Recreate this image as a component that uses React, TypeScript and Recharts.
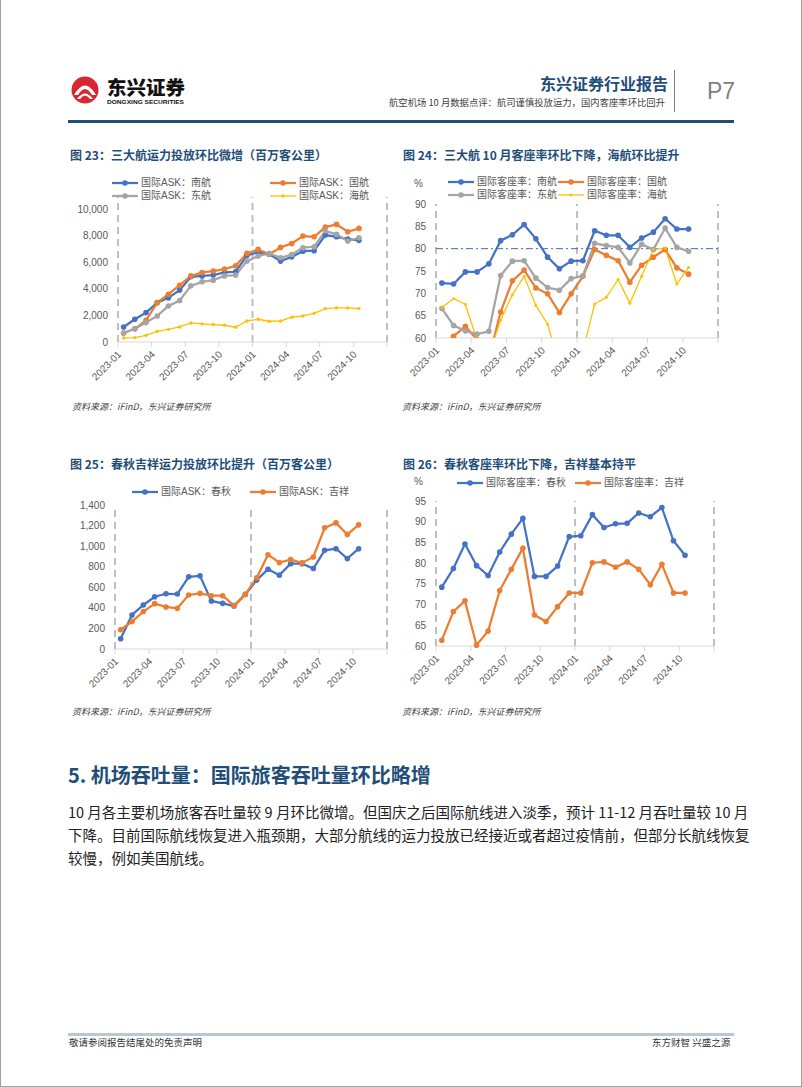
import React from "react";
import { LineChart, Line, XAxis, YAxis, ReferenceLine } from "recharts";

const months = [
  "2023-01", "2023-02", "2023-03", "2023-04", "2023-05", "2023-06",
  "2023-07", "2023-08", "2023-09", "2023-10", "2023-11", "2023-12",
  "2024-01", "2024-02", "2024-03", "2024-04", "2024-05", "2024-06",
  "2024-07", "2024-08", "2024-09", "2024-10",
];
// labels every 3 months on the axis boundaries, last tick (2025-01) unlabeled
const tickLabels = ["2023-01", "2023-04", "2023-07", "2023-10", "2024-01", "2024-04", "2024-07", "2024-10", ""];

// 图23 国际ASK（百万客公里）
const askNanhang = [1130, 1710, 2210, 2960, 3320, 3900, 4900, 4970, 5030, 5230, 5280, 6500, 6750, 6600, 6080, 6400, 6830, 6860, 8040, 7910, 7740, 7640];
const askGuohang = [680, 990, 1630, 2950, 3590, 4270, 4970, 5230, 5330, 5480, 5730, 6660, 6960, 6600, 7110, 7410, 7960, 7910, 8640, 8840, 8290, 8540];
const askDonghang = [680, 990, 1460, 1960, 2710, 3120, 4220, 4520, 4650, 4970, 5030, 6080, 6460, 6660, 6330, 6580, 7090, 7160, 8340, 8090, 7590, 7840];
const askHaihang = [300, 330, 500, 800, 950, 1130, 1430, 1360, 1310, 1260, 1110, 1580, 1710, 1560, 1580, 1860, 1960, 2160, 2510, 2560, 2560, 2510];

// 图24 国际客座率（%）
const lfNanhang = [72.3, 72.1, 74.8, 74.8, 76.6, 81.8, 83.1, 85.4, 82.2, 78.1, 75.5, 77.2, 77.3, 84.0, 83.0, 83.0, 80.3, 82.4, 83.7, 86.7, 84.4, 84.4];
const lfGuohang = [58.5, 60.4, 62.6, 59.6, 55.5, 65.8, 72.8, 75.2, 71.2, 69.9, 65.7, 69.9, 73.8, 79.8, 78.5, 77.3, 72.5, 76.3, 78.1, 79.8, 75.7, 74.3];
const lfDonghang = [66.6, 62.8, 61.6, 60.9, 61.5, 74.0, 77.2, 77.3, 73.4, 71.3, 70.7, 73.3, 73.9, 81.2, 80.7, 80.3, 76.8, 81.0, 79.8, 84.6, 80.3, 79.4];
const lfHaihang = [66.9, 68.8, 67.5, 59.5, 56.0, 64.0, 69.7, 73.8, 67.3, 63.1, 54.0, 53.0, 57.0, 67.6, 69.1, 73.1, 67.8, 73.8, 79.8, 80.1, 72.1, 75.8];

// 图25 国际ASK（百万客公里）
const askChunqiu = [100, 331, 428, 508, 537, 534, 702, 711, 467, 444, 418, 531, 670, 776, 718, 830, 830, 782, 959, 975, 879, 975];
const askJixiang = [187, 267, 364, 441, 409, 396, 525, 541, 518, 518, 422, 531, 692, 917, 840, 869, 837, 895, 1178, 1226, 1114, 1207];

// 图26 国际客座率（%）
const lfChunqiu = [74.2, 78.7, 84.6, 79.4, 77.0, 82.7, 87.0, 90.8, 76.8, 76.8, 79.3, 86.4, 86.6, 91.7, 88.6, 89.5, 89.6, 92.1, 91.2, 93.4, 85.4, 81.9];
const lfJixiang = [61.4, 68.3, 70.9, 60.2, 63.6, 73.4, 78.5, 83.6, 67.5, 65.9, 69.5, 72.8, 72.8, 80.1, 80.3, 79.0, 80.3, 78.5, 74.8, 79.7, 72.8, 72.8];

const bodyLines = [
  "10 月各主要机场旅客吞吐量较 9 月环比微增。但国庆之后国际航线进入淡季，预计 11-12 月吞吐量较 10 月",
  "下降。目前国际航线恢复进入瓶颈期，大部分航线的运力投放已经接近或者超过疫情前，但部分长航线恢复",
  "较慢，例如美国航线。",
];

const BLUE = "#4472C4";
const ORANGE = "#ED7D31";
const GRAY = "#A5A5A5";
const YELLOW = "#FFC000";
const TITLE = "#1F4E79";
const TXT = "#595959";
const FONT = '"Liberation Sans", Arial, "Noto Sans CJK SC", sans-serif';
const CJK = '"Noto Sans CJK SC", "Liberation Sans", sans-serif';

interface SeriesDef {
  name: string;
  color: string;
  values: number[];
  width: number;
  r: number;
}

interface LegendPos {
  s: number;
  x: number;
  y: number;
}

interface ChartDef {
  left: number;
  top: number;
  width: number;
  height: number;
  margin: { top: number; right: number; bottom: number; left: number };
  yWidth: number;
  xHeight: number;
  yDomain: [number, number];
  yTicks: number[];
  clip?: boolean;
  refY?: number;
  comma?: boolean;
  series: SeriesDef[];
  legend: LegendPos[];
}

const MonthTick = (props: any) => {
  const { x, y, payload } = props;
  const label = tickLabels[Math.round(payload.value / 3)];
  const tx = x + 4;
  const ty = y + 8;
  return (
    <text
      x={tx}
      y={ty}
      transform={`rotate(-45, ${tx}, ${ty})`}
      textAnchor="end"
      fontSize={10}
      fontFamily={FONT}
      fill={TXT}
    >
      {label}
    </text>
  );
};

const LegendItem: React.FC<{ s: SeriesDef; x: number; y: number }> = ({ s, x, y }) => (
  <div style={{ position: "absolute", left: x, top: y - 8, height: 16, display: "flex", alignItems: "center", whiteSpace: "nowrap" }}>
    <svg width={26} height={16} style={{ display: "block" }}>
      <line x1={0} y1={8} x2={26} y2={8} stroke={s.color} strokeWidth={s.width} />
      <circle cx={13} cy={8} r={s.r} fill={s.color} />
    </svg>
    <span style={{ marginLeft: 3, fontSize: 10, fontFamily: FONT, color: TXT, lineHeight: "16px" }}>{s.name}</span>
  </div>
);

const MonthlyChart: React.FC<{ def: ChartDef }> = ({ def }) => {
  const rows = months.map((m, i) => {
    const row: Record<string, number | string> = { x: i + 0.5, month: m };
    def.series.forEach((s, k) => {
      row["s" + k] = s.values[i];
    });
    return row;
  });
  return (
    <>
      <div style={{ position: "absolute", left: def.left, top: def.top }}>
        <LineChart width={def.width} height={def.height} data={rows} margin={def.margin}>
          <XAxis
            dataKey="x"
            type="number"
            domain={[0, 24]}
            ticks={[0, 3, 6, 9, 12, 15, 18, 21, 24]}
            interval={0}
            height={def.xHeight}
            tick={<MonthTick />}
            tickSize={5}
            tickMargin={0}
            axisLine={{ stroke: "#D9D9D9" }}
            tickLine={{ stroke: "#D9D9D9" }}
          />
          <YAxis
            type="number"
            domain={def.yDomain}
            ticks={def.yTicks}
            allowDataOverflow={!!def.clip}
            width={def.yWidth}
            axisLine={false}
            tickLine={false}
            tickSize={0}
            tickMargin={10}
            interval={0}
            tick={{ fontSize: 10, fill: TXT, fontFamily: FONT }}
            tickFormatter={(v: number) => (def.comma ? v.toLocaleString("en-US") : String(v))}
          />
          {[0, 12, 24].map((v) => (
            <ReferenceLine key={v} x={v} stroke="#BFBFBF" strokeWidth={2} strokeDasharray="7 5" />
          ))}
          {def.refY !== undefined && (
            <ReferenceLine y={def.refY} stroke="#3F6FB5" strokeWidth={1} strokeDasharray="7 3 2 3" />
          )}
          {def.series.map((s, k) => (
            <Line
              key={s.name}
              type="linear"
              dataKey={"s" + k}
              name={s.name}
              stroke={s.color}
              strokeWidth={s.width}
              dot={{ r: s.r, fill: s.color, stroke: s.color, strokeWidth: 0 }}
              isAnimationActive={false}
            />
          ))}
        </LineChart>
      </div>
      {def.legend.map((l) => (
        <LegendItem key={l.s} s={def.series[l.s]} x={l.x} y={l.y} />
      ))}
    </>
  );
};

const chart23: ChartDef = {
  left: 60, top: 190, width: 345, height: 230,
  margin: { top: 7, right: 18, bottom: 0, left: 0 },
  yWidth: 58, xHeight: 78,
  yDomain: [0, 10900], yTicks: [0, 2000, 4000, 6000, 8000, 10000], comma: true,
  series: [
    { name: "国际ASK：南航", color: BLUE, values: askNanhang, width: 2.25, r: 2.8 },
    { name: "国际ASK：国航", color: ORANGE, values: askGuohang, width: 2.25, r: 2.8 },
    { name: "国际ASK：东航", color: GRAY, values: askDonghang, width: 2.25, r: 2.8 },
    { name: "国际ASK：海航", color: YELLOW, values: askHaihang, width: 1.3, r: 1.7 },
  ],
  legend: [
    { s: 0, x: 112, y: 183 },
    { s: 1, x: 270, y: 183 },
    { s: 2, x: 112, y: 196 },
    { s: 3, x: 270, y: 196 },
  ],
};

const chart24: ChartDef = {
  left: 395, top: 190, width: 330, height: 230,
  margin: { top: 14, right: 7, bottom: 0, left: 0 },
  yWidth: 41, xHeight: 82,
  yDomain: [60, 90], yTicks: [60, 65, 70, 75, 80, 85, 90], clip: true, refY: 80,
  series: [
    { name: "国际客座率：南航", color: BLUE, values: lfNanhang, width: 2.25, r: 2.8 },
    { name: "国际客座率：国航", color: ORANGE, values: lfGuohang, width: 2.25, r: 2.8 },
    { name: "国际客座率：东航", color: GRAY, values: lfDonghang, width: 2.25, r: 2.8 },
    { name: "国际客座率：海航", color: YELLOW, values: lfHaihang, width: 1.3, r: 1.5 },
  ],
  legend: [
    { s: 0, x: 448, y: 182 },
    { s: 1, x: 558, y: 182 },
    { s: 2, x: 448, y: 195 },
    { s: 3, x: 558, y: 195 },
  ],
};

const chart25: ChartDef = {
  left: 60, top: 495, width: 340, height: 225,
  margin: { top: 10, right: 13, bottom: 0, left: 0 },
  yWidth: 55, xHeight: 71,
  yDomain: [0, 1400], yTicks: [0, 200, 400, 600, 800, 1000, 1200, 1400], comma: true,
  series: [
    { name: "国际ASK：春秋", color: BLUE, values: askChunqiu, width: 2.25, r: 2.8 },
    { name: "国际ASK：吉祥", color: ORANGE, values: askJixiang, width: 2.25, r: 2.8 },
  ],
  legend: [
    { s: 0, x: 132, y: 492 },
    { s: 1, x: 250, y: 492 },
  ],
};

const chart26: ChartDef = {
  left: 395, top: 490, width: 330, height: 230,
  margin: { top: 11, right: 11, bottom: 0, left: 0 },
  yWidth: 41, xHeight: 74,
  yDomain: [60, 95], yTicks: [60, 65, 70, 75, 80, 85, 90, 95],
  series: [
    { name: "国际客座率：春秋", color: BLUE, values: lfChunqiu, width: 2.25, r: 2.8 },
    { name: "国际客座率：吉祥", color: ORANGE, values: lfJixiang, width: 2.25, r: 2.8 },
  ],
  legend: [
    { s: 0, x: 457, y: 483 },
    { s: 1, x: 575, y: 483 },
  ],
};

const abs = (x: number, y: number, extra: React.CSSProperties = {}): React.CSSProperties => ({
  position: "absolute",
  left: x,
  top: y,
  whiteSpace: "nowrap",
  ...extra,
});

const Title: React.FC<{ x: number; y: number; text: string }> = ({ x, y, text }) => (
  <div style={abs(x, y - 9, { fontFamily: CJK, fontSize: 12, fontWeight: 700, color: TITLE, lineHeight: "18px" })}>{text}</div>
);

const Source: React.FC<{ x: number; y: number }> = ({ x, y }) => (
  <div style={abs(x, y - 7, { fontFamily: CJK, fontSize: 9, fontStyle: "italic", color: "#404040", lineHeight: "14px" })}>
    资料来源：iFinD，东兴证券研究所
  </div>
);

export default function App() {
  return (
    <div style={{ position: "absolute", left: 0, top: 0, width: 802, height: 1087, background: "#fff", overflow: "hidden" }}>
      {/* page frame */}
      <div style={{ position: "absolute", left: 0, top: 0, width: 1, height: 1087, background: "#A0A0A0" }} />
      <div style={{ position: "absolute", right: 0, top: 0, width: 1, height: 1087, background: "#A0A0A0" }} />
      <div style={{ position: "absolute", left: 0, bottom: 0, width: 802, height: 1, background: "#A0A0A0" }} />

      {/* header */}
      <svg width={802} height={130} style={{ position: "absolute", left: 0, top: 0 }}>
        <circle cx={85} cy={90} r={13.5} fill="#D7282F" />
        <path d="M74 95 Q85 76 96 95 L92 95 Q85 83 78 95 Z" fill="#fff" />
        <path d="M77 99 Q85 88 93 99 L90 99 Q85 92 80 99 Z" fill="#fff" />
        <text x={107} y={95} fontFamily={CJK} fontSize={19} fontWeight={900} fill="#111" textLength={78} lengthAdjust="spacingAndGlyphs">东兴证券</text>
        <text x={107} y={104} fontFamily={FONT} fontSize={6} fontWeight={700} fill="#111" textLength={77} lengthAdjust="spacingAndGlyphs">DONGXING SECURITIES</text>
        <text x={668} y={90} textAnchor="end" fontFamily={CJK} fontSize={16} fontWeight={700} fill={TITLE}>东兴证券行业报告</text>
        <text x={665} y={106} textAnchor="end" fontFamily={CJK} fontSize={9} fill="#404040" textLength={276} lengthAdjust="spacingAndGlyphs">航空机场 10 月数据点评：航司谨慎投放运力，国内客座率环比回升</text>
        <line x1={674.5} y1={70} x2={674.5} y2={112} stroke="#7F7F7F" strokeWidth={1} />
        <text x={707} y={99} fontFamily={FONT} fontSize={23} fill="#7F7F7F">P7</text>
        <rect x={68} y={120} width={666} height={3} fill="#1F4E79" />
      </svg>

      <Title x={70} y={155} text="图 23：三大航运力投放环比微增（百万客公里）" />
      <Title x={403} y={155} text="图 24：三大航 10 月客座率环比下降，海航环比提升" />
      <div style={abs(414, 178, { fontFamily: FONT, fontSize: 10, color: TXT })}>%</div>
      <MonthlyChart def={chart23} />
      <MonthlyChart def={chart24} />
      <Source x={72} y={407} />
      <Source x={402} y={407} />

      <Title x={70} y={464} text="图 25：春秋吉祥运力投放环比提升（百万客公里）" />
      <Title x={403} y={464} text="图 26：春秋客座率环比下降，吉祥基本持平" />
      <div style={abs(414, 476, { fontFamily: FONT, fontSize: 10, color: TXT })}>%</div>
      <MonthlyChart def={chart25} />
      <MonthlyChart def={chart26} />
      <Source x={72} y={712} />
      <Source x={402} y={712} />

      {/* section text */}
      <div style={abs(68, 762, { fontFamily: CJK, fontSize: 20, fontWeight: 700, color: TITLE, lineHeight: "26px" })}>
        5. 机场吞吐量：国际旅客吞吐量环比略增
      </div>
      {bodyLines.map((line, i) => (
        <div
          key={i}
          style={{
            position: "absolute",
            left: 68,
            top: 800 + i * 23,
            width: 666,
            fontFamily: CJK,
            fontSize: 14.5,
            lineHeight: "23px",
            color: "#222",
            whiteSpace: "nowrap",
            textAlign: i < bodyLines.length - 1 ? "justify" : "left",
            textAlignLast: i < bodyLines.length - 1 ? "justify" : "left",
          }}
        >
          {line}
        </div>
      ))}

      {/* footer */}
      <div style={{ position: "absolute", left: 68, top: 1033, width: 666, height: 2.5, background: "#B8C8D6" }} />
      <div style={abs(69, 1035, { fontFamily: CJK, fontSize: 9.5, color: "#333", lineHeight: "14px" })}>敬请参阅报告结尾处的免责声明</div>
      <div style={abs(652, 1035, { fontFamily: CJK, fontSize: 9.5, color: "#333", lineHeight: "14px" })}>东方财智 兴盛之源</div>
    </div>
  );
}
